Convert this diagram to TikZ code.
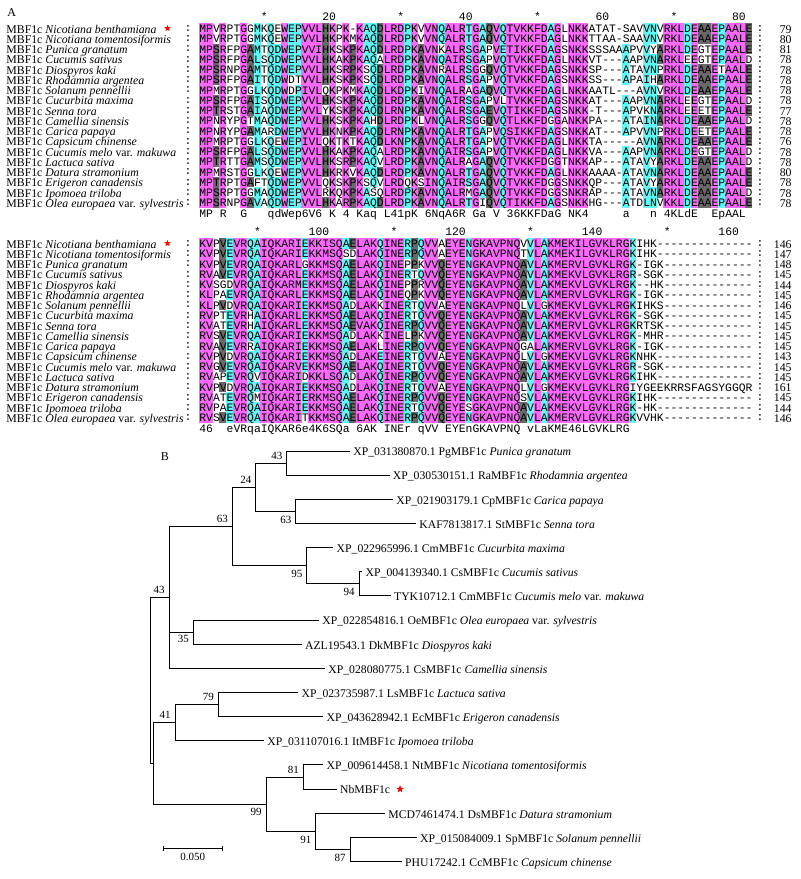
\documentclass[tikz,border=0pt]{standalone}
\usepackage{fontspec}
\setmainfont{Liberation Serif}
\newfontfamily\alnfont{Liberation Mono}
\usetikzlibrary{positioning,shapes.geometric}

\definecolor{alnmag}{RGB}{250,105,250}
\definecolor{alncyan}{RGB}{100,245,245}
\definecolor{alngray}{RGB}{105,105,105}

\newcommand\AlnCell[3]{\fill[#1] (#2,#3) rectangle ++(6.93,10.35);}
\newcommand\AlnSeq[3]{\node (#1) [Seq] at (199,#2) {\AlnText{#3}};}

\ExplSyntaxOn
\seq_new:N \g_aln_a_seq
\seq_new:N \g_aln_b_seq
\tl_new:N \l_aln_col_tl
\tl_new:N \l_aln_shade_tl
\int_new:N \l_aln_row_int
\int_new:N \l_aln_id_int
\int_new:N \l_aln_grp_int
\int_new:N \l_aln_g_int
\int_new:N \l_aln_n_int
\int_new:N \l_aln_tot_int

\cs_new:Npn \aln_grp:n #1
  {
    \str_case:nnF {#1}
      {
        {D}{1} {N}{1} {E}{2} {Q}{2} {S}{3} {T}{3} {K}{4} {R}{4}
        {F}{5} {Y}{5} {W}{5} {L}{6} {I}{6} {V}{6} {M}{6}
      }
      {0}
  }

\NewDocumentCommand \AlnRow { m m }
  { \seq_gput_right:cn { g_aln_#1_seq } {#2} }

\NewDocumentCommand \AlnText { m }
  {
    \str_map_inline:nn {#1}
      { \makebox[3.415pt][c]{ \str_if_eq:nnF {##1} {.} {##1} } }
  }

\NewDocumentCommand \AlnShade { m m m }
  {
    \int_set:Nn \l_aln_tot_int { \seq_count:c { g_aln_#1_seq } }
    \int_step_inline:nn {#3}
      {
        \tl_clear:N \l_aln_col_tl
        \exp_args:Nc \seq_map_inline:Nn { g_aln_#1_seq }
          { \tl_put_right:Nx \l_aln_col_tl { { \str_item:nn {####1} {##1} } } }
        \int_zero:N \l_aln_row_int
        \tl_map_inline:Nn \l_aln_col_tl
          {
            \int_incr:N \l_aln_row_int
            \int_zero:N \l_aln_id_int
            \int_zero:N \l_aln_grp_int
            \int_set:Nn \l_aln_g_int { \aln_grp:n {####1} }
            \tl_map_inline:Nn \l_aln_col_tl
              {
                \str_if_eq:nnT {####1} {########1}
                  { \int_incr:N \l_aln_id_int }
                \int_compare:nNnT { \aln_grp:n {########1} } = { \l_aln_g_int }
                  { \int_incr:N \l_aln_grp_int }
              }
            \int_compare:nNnT { \l_aln_g_int } = { 0 }
              { \int_zero:N \l_aln_grp_int }
            \int_set:Nn \l_aln_n_int { \int_max:nn { \l_aln_id_int } { \l_aln_grp_int } }
            \str_if_eq:nnT {####1} {-} { \int_zero:N \l_aln_n_int }
            \tl_clear:N \l_aln_shade_tl
            \int_compare:nNnF { 100 * \l_aln_n_int } < { 60 * \l_aln_tot_int }
              {
                \int_compare:nNnTF { 100 * \l_aln_n_int } < { 75 * \l_aln_tot_int }
                  { \tl_set:Nn \l_aln_shade_tl { alngray } }
                  {
                    \int_compare:nNnTF { \l_aln_n_int } < { \l_aln_tot_int }
                      { \tl_set:Nn \l_aln_shade_tl { alncyan } }
                      { \tl_set:Nn \l_aln_shade_tl { alnmag } }
                  }
              }
            \tl_if_empty:NF \l_aln_shade_tl
              {
                \use:x
                  {
                    \exp_not:N \AlnCell { \l_aln_shade_tl }
                      { \fp_eval:n { 199 + ( ##1 - 1 ) * 6.83 } }
                      { \fp_eval:n { #2 + ( \l_aln_row_int - 1 ) * 10.25 } }
                  }
              }
          }
      }
    \int_zero:N \l_aln_row_int
    \exp_args:Nc \seq_map_inline:Nn { g_aln_#1_seq }
      {
        \int_incr:N \l_aln_row_int
        \use:x
          {
            \exp_not:N \AlnSeq { #1 - \int_use:N \l_aln_row_int }
              { \fp_eval:n { #2 + ( \l_aln_row_int - 0.5 ) * 10.25 } }
              { ##1 }
          }
      }
  }
\ExplSyntaxOff

\AlnRow{a}{MPVRPTGGMKQEWEPVVLHKPK-KAQDLRDPKVVNQALRTGAQVQTVKKFDAGLNKKATAT-SAVVNVRKLDEAAEPAALE}
\AlnRow{a}{MPVRPTGGMKQEWEPVVLHKPKMKAQDLRDPKVVNQALRTGAQVQTVKKFDAGLNKKTTAA-SAAVNVRKLDEAAEPAALE}
\AlnRow{a}{MPSRFPGAMTQDWEPVVIHKSKPKAQDLRDPKAVNKALRSGAPVETIKKFDAGSNKKSSSAAAPVVYARKLDEGTEPAALE}
\AlnRow{a}{MPSRFPGALSQDWEPVVLHKAKPKAQALRDPKAVNQAIRSGAPVQTVKKFDAGLNKKVT---AAPVNARKLEEGTEPAALD}
\AlnRow{a}{MPSRNPGAMTQDWEPVVLHKSRPKSQDLRDPKAVNRALRSGGQVQTVKKFDAGSNKKSP---ATAVNPRKLDEAAETAALE}
\AlnRow{a}{MPSRFPGAITQDWDTVVLHKSKPKSQDLRDPKAVNQALRSGAPVQTVKKFDAGSNKKSS---APAIHARKLDEAAEPAALE}
\AlnRow{a}{MPMRPTGGLKQDWDPIVLQKPKMKAQDLKDPKIVNQALRAGAQVQTVKKFDAGLNKKAATL---AVNVRKLDEAAEPAALE}
\AlnRow{a}{MPSRFPGAISQDWEPVVLHKSKPKAQDLRDPKAVNQAIRSGAPVLTVKKFDAGSNKKAT---AAPVNARKLEEGTEPAALD}
\AlnRow{a}{MPTRSTGAIAQDWEPVVLYKSKPKAQDLRNPKAVNQALRSGAEVQTIKKFDAGSNKK-T---APVKNARKLEEETEPAALE}
\AlnRow{a}{MPNRYPGTMAQDWEPVVLHKSKPKAHDLRDPKLVNQALRSGGQVQTLKKFDGGANKKPA---ATAINARKLDEAAEPAALD}
\AlnRow{a}{MPNRYPGAMARDWEPVVLHKNKPKAQDLRNPKAVNQALRTGAPVQSIKKFDAGSNKKAT---APVVNPRKLDEETEPAALE}
\AlnRow{a}{MPMRPTGGLKQEWEPIVLQKTKTKAQDLKNPKAVNQALRTGAPVQTVKKFDAGLNKKTA-----AVNARKLDEAAEPAALE}
\AlnRow{a}{MPSRFPGALSQDWEPVVLHKAKPKAQALRDPKAVNQAIRSGAPVQTVKKFDAGLNKKVA---AAPVNARKLDEGTEPAALD}
\AlnRow{a}{MPTRTTGAMSQDWEPVVLHKSRPKAQVLRDPKAVNQALRAGAQVQTVKKFDGGTNKKAP---ATAVYARKLDEAAEPAALD}
\AlnRow{a}{MPMRSTGGLKQEWEPVVLHKRKVKAQDLRDPKAVNQALRTGAQVQTVKKFDAGLNKKAAAA-ATAVNARKLDEAAEPAALE}
\AlnRow{a}{MPTRPTGAFTQDWEPVVLQKSKPKSQVLRDQKSINQAIRSGAQVQTVKKFDGGSNKKQP---ATAVYARKLDEAAEPAALE}
\AlnRow{a}{MPSRPTGGMAQDWEPVVLRKQKPKASQLRDPKAVNQALRMGAQVQTVKKFDGGSNKRAP---ATAVNARKLDEAAEPAALD}
\AlnRow{a}{MPSRNPGAVAQDWEPVVLHKARPKAQDLRDPKAVNQALRTGIQVQTIKKFDAGSNKKHG---ATDLNVKKLDEAAEPAALE}

\AlnRow{b}{KVPVEVRQAIQKARIEKKISQAELAKQINERPQVVAEYENGKAVPNQVVLAKMEKILGVKLRGKIHK--------------}
\AlnRow{b}{KVPVEVRQAIQKARIEKKMSQSDLAKQINERPQVVAEYENGKAVPNQTVLAKMEKILGVKLRGKIHK--------------}
\AlnRow{b}{KVPVEVRQAIQKARLGKKMSQAELAKQINEPPKVVQEYENGKAVPNQAVLAKMERVLGVKLRGK-IGK-------------}
\AlnRow{b}{RVAVEVRQAIQKARLEKKMSQAELAKQINERTQVVQEYENGKAVPNQAVLAKMEKVLGVKLRGR-SGK-------------}
\AlnRow{b}{KVSGDVRQAIQKARMEKKMSQAELAKQINEPPRVVQEYENGKAVPNQAVLAKMEKVLGVKLRGK--HK-------------}
\AlnRow{b}{KLPAEVRQAIQKARLEKKMSQAELAKQINEQPKVVQEYENGKAVPNQAVLAKMERVLGVKLRGK-IGK-------------}
\AlnRow{b}{KLPVDVRQAIQKARIEKKMSQADLAKKINERTQVVAEYENGKAVPNQLVLGKMEKVLGVKLRGKIHKS-------------}
\AlnRow{b}{RVPTEVRHAIQKARLEKKMSQAELAKQINERTQVVQEYENGKAVPNQAVLAKMEKVLGVKLRGK-SGK-------------}
\AlnRow{b}{KVATEVRHAIQKARLEKKMSQAEVAKQINERPQVVQEYENGKAVPNQAVLAKMERVLGVKLRGKRTSK-------------}
\AlnRow{b}{RVSVEVRQAIQKARIEKKMSQADLAKKINELPKVVQEYENGKAVPNQAVLAKMEKVLGVKLRGK-MHR-------------}
\AlnRow{b}{RVAVEVRRAIQKARIEKKMSQAELAKLINERPQVVQEYENGKAVPNQGALAKMERVLGVKLRGK-IGK-------------}
\AlnRow{b}{KVPVDVRQAIQKARIEKKMSQADLAKEINERTQVVAEYENGKAVPNQLVLGKMEKVLGVKLRGKNHK--------------}
\AlnRow{b}{RVGVEVRQAIQKARVEKKMSQAELAKQINERTQVVQEYENGKAVPNQAVLAKMEKVLGVKLRGR-SGK-------------}
\AlnRow{b}{RVAPEVRQVIQKARIDKKLSQADLAKQINERPQVVQEYENGKAVPNQAVLAKMEKVLGVKLRGKIHK--------------}
\AlnRow{b}{KVPVDVRQAIQKARIEKKMSQADLAKQINERTQVVAEYENGKAVPNQLVLGKMEKVLGVKLRGIYGEEKRRSFAGSYGGQR}
\AlnRow{b}{RVATEVRQMIQKARIERKMSQAELAKQINERPQVVQEYENGKAVPNQSVLAKMEKVLGVKLRGKIHK--------------}
\AlnRow{b}{RVPAEVRQAIQKARIEKKMSQAELAKQINERTQVVQEYESGKAVPNQAVLAKMEKVLGVKLRGK-HK--------------}
\AlnRow{b}{RVSVEVRQAIQKARITKKMSQAELAKQINERPQVVQEYENGKAVPNQAVLAKMERVLGVKLRGKVVHK-------------}

\begin{document}
\begin{tikzpicture}[x=0.5pt,y=-0.5pt]
\tikzstyle{Panel}  = [inner sep=0pt, font=\fontsize{6pt}{7pt}\selectfont]
\tikzstyle{Name}   = [anchor=west, inner sep=0pt, font=\fontsize{5.9pt}{7pt}\selectfont, text height=0.66em, text depth=0.18em]
\tikzstyle{Num}    = [Name, anchor=east]
\tikzstyle{Seq}    = [anchor=west, inner sep=0pt, font=\fontsize{5.69pt}{6pt}\selectfont\alnfont, text height=0.62em, text depth=0.2em]
\tikzstyle{Colon}  = [inner sep=0pt, font=\fontsize{5.69pt}{6pt}\selectfont\alnfont]
\tikzstyle{Star}   = [star, star points=5, star point ratio=2.3, fill=red, inner sep=0pt, minimum size=3.4pt]
\tikzstyle{Leaf}   = [anchor=west, inner xsep=1.5pt, inner ysep=0pt, font=\fontsize{5.85pt}{7pt}\selectfont, text height=0.7em, text depth=0.22em]
\tikzstyle{Boot}   = [inner sep=0pt, font=\fontsize{5.5pt}{6pt}\selectfont]
\tikzstyle{Branch} = [line width=0.5pt]

\useasboundingbox (0,0) rectangle (800,879);

\node (labA) [Panel] at (11.7,12.7) {A};

\node (ruleA) [Seq] at (199,16.7) {\AlnText{.........*........20.........*........40.........*........60.........*........80}};
\AlnShade{a}{23.175}{81}
\node (consA) [Seq] at (199,212.8) {\AlnText{MP.R..G...qdWep6V6.K.4.Kaq.L41pK.6NqA6R.Ga.V.36KKFDaG.NK4.....a...n.4KLdE..EpAAL.}};

\node (ruleB) [Seq] at (199,231.7) {\AlnText{........*.......100.........*.......120.........*.......140.........*.......160.}};
\AlnShade{b}{238.175}{81}
\node (consB) [Seq] at (199,427.8) {\AlnText{46..eVRqaIQKAR6e4K6SQa.6AK.INEr.qVV.EYEnGKAVPNQ.vLaKME46LGVKLRG}};

\foreach \sp/\na/\nb [count=\r] in {
  {\textit{Nicotiana benthamiana}}/79/146,
  {\textit{Nicotiana tomentosiformis}}/80/147,
  {\textit{Punica granatum}}/81/148,
  {\textit{Cucumis sativus}}/78/145,
  {\textit{Diospyros kaki}}/78/144,
  {\textit{Rhodamnia argentea}}/78/145,
  {\textit{Solanum pennellii}}/78/146,
  {\textit{Cucurbita maxima}}/78/145,
  {\textit{Senna tora}}/77/145,
  {\textit{Camellia sinensis}}/78/145,
  {\textit{Carica papaya}}/78/145,
  {\textit{Capsicum chinense}}/76/143,
  {\textit{Cucumis melo} var. \textit{makuwa}}/78/145,
  {\textit{Lactuca sativa}}/78/145,
  {\textit{Datura stramonium}}/80/161,
  {\textit{Erigeron canadensis}}/78/145,
  {\textit{Ipomoea triloba}}/78/144,
  {\textit{Olea europaea} var. \textit{sylvestris}}/78/146}{
  \node (an\r) [Name] at (6,{28.3+(\r-1)*10.25}) {MBF1c \sp};
  \node (ak\r) [Colon] at (188,{28.3+(\r-1)*10.25}) {:};
  \node (aq\r) [Colon] at (760,{28.3+(\r-1)*10.25}) {:};
  \node (am\r) [Num] at (792,{28.3+(\r-1)*10.25}) {\na};
  \node (bn\r) [Name] at (6,{243.3+(\r-1)*10.25}) {MBF1c \sp};
  \node (bk\r) [Colon] at (188,{243.3+(\r-1)*10.25}) {:};
  \node (bq\r) [Colon] at (760,{243.3+(\r-1)*10.25}) {:};
  \node (bm\r) [Num] at (792,{243.3+(\r-1)*10.25}) {\nb};
}
\node (starA) [Star, right=4pt of an1] {};
\node (starB) [Star, right=4pt of bn1] {};

\node (labB) [Panel] at (165,456.7) {B};

\coordinate (root) at (150.7,680.4);
\coordinate (n43b) at (169,597.4);
\coordinate (n63a) at (232.3,526.5);
\coordinate (n24)  at (255.7,487.2);
\coordinate (n43a) at (286.7,463.1);
\coordinate (n63b) at (295.7,511.4);
\coordinate (n95)  at (306.7,565.7);
\coordinate (n94)  at (359,583.8);
\coordinate (n35)  at (193.3,632.1);
\coordinate (nX)   at (153.3,763.5);
\coordinate (n41)  at (175,722.7);
\coordinate (n79)  at (218.3,704.6);
\coordinate (n99)  at (266,804.2);
\coordinate (n81)  at (303.3,777);
\coordinate (n91)  at (315.7,831.4);
\coordinate (n87)  at (350,849.5);

\node (pg)  [Leaf] at (350,451)     {XP\_031380870.1 PgMBF1c \textit{Punica granatum}};
\node (ra)  [Leaf] at (389.5,475.15) {XP\_030530151.1 RaMBF1c \textit{Rhodamnia argentea}};
\node (cp)  [Leaf] at (393,499.3)   {XP\_021903179.1 CpMBF1c \textit{Carica papaya}};
\node (st)  [Leaf] at (416,523.45)  {KAF7813817.1 StMBF1c \textit{Senna tora}};
\node (cm)  [Leaf] at (333.3,547.6) {XP\_022965996.1 CmMBF1c \textit{Cucurbita maxima}};
\node (csa) [Leaf] at (362.3,571.75) {XP\_004139340.1 CsMBF1c \textit{Cucumis sativus}};
\node (cme) [Leaf] at (390.7,595.9) {TYK10712.1 CmMBF1c \textit{Cucumis melo} var. \textit{makuwa}};
\node (oe)  [Leaf] at (319,620.05)  {XP\_022854816.1 OeMBF1c \textit{Olea europaea} var. \textit{sylvestris}};
\node (dk)  [Leaf] at (301.7,644.2) {AZL19543.1 DkMBF1c \textit{Diospyros kaki}};
\node (csi) [Leaf] at (325,668.35)  {XP\_028080775.1 CsMBF1c \textit{Camellia sinensis}};
\node (ls)  [Leaf] at (298.3,692.5) {XP\_023735987.1 LsMBF1c \textit{Lactuca sativa}};
\node (ec)  [Leaf] at (323.3,716.65) {XP\_043628942.1 EcMBF1c \textit{Erigeron canadensis}};
\node (it)  [Leaf] at (264,740.8)   {XP\_031107016.1 ItMBF1c \textit{Ipomoea triloba}};
\node (nt)  [Leaf] at (323.3,764.95) {XP\_009614458.1 NtMBF1c \textit{Nicotiana tomentosiformis}};
\node (nb)  [Leaf] at (336.7,789.1) {NbMBF1c};
\node (ds)  [Leaf] at (385,813.25)  {MCD7461474.1 DsMBF1c \textit{Datura stramonium}};
\node (sp)  [Leaf] at (416.7,837.4) {XP\_015084009.1 SpMBF1c \textit{Solanum pennellii}};
\node (cc)  [Leaf] at (401.7,861.55) {PHU17242.1 CcMBF1c \textit{Capsicum chinense}};
\node (starC) [Star, minimum size=3.9pt, right=1.8pt of nb] {};

\draw [Branch] (root) |- (n43b);
\draw [Branch] (root) |- (nX);
\draw [Branch] (n43b) |- (n63a);
\draw [Branch] (n43b) |- (n35);
\draw [Branch] (n43b) |- (csi.west);
\draw [Branch] (n63a) |- (n24);
\draw [Branch] (n63a) |- (n95);
\draw [Branch] (n24) |- (n43a);
\draw [Branch] (n24) |- (n63b);
\draw [Branch] (n43a) |- (pg.west);
\draw [Branch] (n43a) |- (ra.west);
\draw [Branch] (n63b) |- (cp.west);
\draw [Branch] (n63b) |- (st.west);
\draw [Branch] (n95) |- (cm.west);
\draw [Branch] (n95) |- (n94);
\draw [Branch] (n94) |- (csa.west);
\draw [Branch] (n94) |- (cme.west);
\draw [Branch] (n35) |- (oe.west);
\draw [Branch] (n35) |- (dk.west);
\draw [Branch] (nX) |- (n41);
\draw [Branch] (nX) |- (n99);
\draw [Branch] (n41) |- (n79);
\draw [Branch] (n41) |- (it.west);
\draw [Branch] (n79) |- (ls.west);
\draw [Branch] (n79) |- (ec.west);
\draw [Branch] (n99) |- (n81);
\draw [Branch] (n99) |- (n91);
\draw [Branch] (n81) |- (nt.west);
\draw [Branch] (n81) |- (nb.west);
\draw [Branch] (n91) |- (ds.west);
\draw [Branch] (n91) |- (n87);
\draw [Branch] (n87) |- (sp.west);
\draw [Branch] (n87) |- (cc.west);

\node (b43a) [Boot, above left=1.7pt and 2pt of n43a] {43};
\node (b24)  [Boot, above left=1.7pt and 2pt of n24]  {24};
\node (b63b) [Boot, below left=2pt and 2pt of n63b]   {63};
\node (b63a) [Boot, above left=1.7pt and 2pt of n63a] {63};
\node (b95)  [Boot, below left=2pt and 2pt of n95]    {95};
\node (b94)  [Boot, below left=2pt and 2pt of n94]    {94};
\node (b43b) [Boot, above left=1.7pt and 2pt of n43b] {43};
\node (b35)  [Boot, below left=1.5pt and 2pt of n35]  {35};
\node (b79)  [Boot, above left=1.7pt and 2pt of n79]  {79};
\node (b41)  [Boot, above left=1.7pt and 2pt of n41]  {41};
\node (b81)  [Boot, above left=1.7pt and 2pt of n81]  {81};
\node (b99)  [Boot, below left=2pt and 2pt of n99]    {99};
\node (b91)  [Boot, below left=2pt and 2pt of n91]    {91};
\node (b87)  [Boot, below left=2pt and 2pt of n87]    {87};

\coordinate (sb1) at (163.3,848.3);
\coordinate (sb2) at (222.3,848.3);
\coordinate (sbm) at (192.8,848.3);
\draw [Branch] (sb1) -- (sb2);
\draw [Branch] ([yshift=1.2pt]sb1) -- ([yshift=-1.2pt]sb1);
\draw [Branch] ([yshift=1.2pt]sb2) -- ([yshift=-1.2pt]sb2);
\node (sbl) [Boot, below=2pt of sbm] {0.050};
\end{tikzpicture}
\end{document}
